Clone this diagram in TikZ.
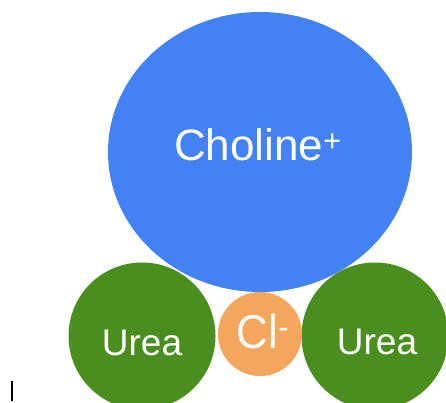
\documentclass[tikz,border=0pt]{standalone}
\usepackage{fontspec}
\setmainfont{Liberation Sans}
\usetikzlibrary{shapes.geometric}
\definecolor{cblue}{RGB}{66,130,245}
\definecolor{cgreen}{RGB}{74,142,32}
\definecolor{corange}{RGB}{243,166,92}
\begin{document}
\begin{tikzpicture}[x=1pt,y=-1pt,
  ball/.style={draw=none, inner sep=0pt, outer sep=0pt},
  lbl/.style={text=white, inner sep=0pt, anchor=base}]
\useasboundingbox (0,0) rectangle (446,403);
\clip (0,0) rectangle (446,403);
\node[ball, circle, fill=cgreen, minimum size=147pt] (ureaL) at (142,336) {};
\node[ball, circle, fill=cgreen, minimum size=147pt] (ureaR) at (375,336) {};
\node[ball, ellipse, fill=cblue, minimum width=304pt, minimum height=280pt] (chol) at (260,152) {};
\node[ball, circle, fill=corange, minimum size=84pt] (cl) at (260,334) {};
\node[lbl, font=\fontsize{44}{44}\selectfont] (tchol) at (258,161) {Choline\textsuperscript{+}};
\node[lbl, font=\fontsize{37}{37}\selectfont] (tureaL) at (142,355) {Urea};
\node[lbl, font=\fontsize{37}{37}\selectfont] (tureaR) at (377,354) {Urea};
\node[lbl, font=\fontsize{44}{44}\selectfont, yscale=1.08] (tcl) at (263,348) {Cl\textsuperscript{-}};
\draw[line width=1.5pt] (12,381) -- (12,401);
\end{tikzpicture}
\end{document}
